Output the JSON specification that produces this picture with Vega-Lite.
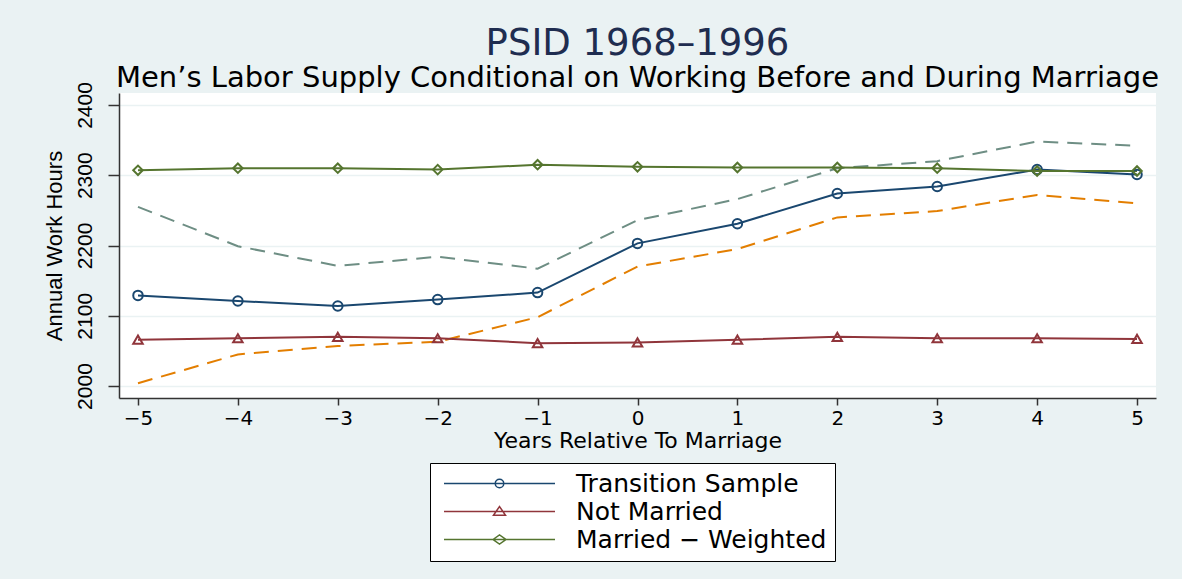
{
  "$schema": "https://vega.github.io/schema/vega-lite/v6.json",
  "autosize": {"type": "none"},
  "width": 1037,
  "height": 305,
  "padding": {"left": 119, "top": 93, "right": 26, "bottom": 181},
  "background": "#eaf2f3",
  "title": {
    "text": "PSID 1968–1996",
    "subtitle": "Men’s Labor Supply Conditional on Working Before and During Marriage",
    "anchor": "middle",
    "font": "DejaVu Sans",
    "fontSize": 37,
    "fontWeight": "normal",
    "color": "#1f2d50",
    "subtitleFont": "DejaVu Sans",
    "subtitleFontSize": 29,
    "subtitleColor": "#000000",
    "subtitlePadding": 1,
    "offset": -12
  },
  "config": {
    "view": {"fill": "#ffffff", "stroke": null},
    "axis": {
      "labelFont": "DejaVu Sans",
      "titleFont": "DejaVu Sans",
      "labelColor": "#000000",
      "titleColor": "#000000",
      "titleFontWeight": "normal",
      "domainColor": "#333333",
      "domainWidth": 1.5,
      "tickColor": "#333333",
      "tickWidth": 1.5,
      "gridColor": "#eaf2f3",
      "gridWidth": 1.5
    }
  },
  "data": {
    "values": [
      {"year": -5, "series": "Transition Sample", "hours": 2129},
      {"year": -4, "series": "Transition Sample", "hours": 2121},
      {"year": -3, "series": "Transition Sample", "hours": 2114},
      {"year": -2, "series": "Transition Sample", "hours": 2123},
      {"year": -1, "series": "Transition Sample", "hours": 2133},
      {"year": 0, "series": "Transition Sample", "hours": 2203},
      {"year": 1, "series": "Transition Sample", "hours": 2231},
      {"year": 2, "series": "Transition Sample", "hours": 2274},
      {"year": 3, "series": "Transition Sample", "hours": 2284},
      {"year": 4, "series": "Transition Sample", "hours": 2308},
      {"year": 5, "series": "Transition Sample", "hours": 2301},
      {"year": -5, "series": "Not Married", "hours": 2066},
      {"year": -4, "series": "Not Married", "hours": 2068},
      {"year": -3, "series": "Not Married", "hours": 2070},
      {"year": -2, "series": "Not Married", "hours": 2068},
      {"year": -1, "series": "Not Married", "hours": 2061},
      {"year": 0, "series": "Not Married", "hours": 2062},
      {"year": 1, "series": "Not Married", "hours": 2066},
      {"year": 2, "series": "Not Married", "hours": 2070},
      {"year": 3, "series": "Not Married", "hours": 2068},
      {"year": 4, "series": "Not Married", "hours": 2068},
      {"year": 5, "series": "Not Married", "hours": 2067},
      {"year": -5, "series": "Married − Weighted", "hours": 2307},
      {"year": -4, "series": "Married − Weighted", "hours": 2310},
      {"year": -3, "series": "Married − Weighted", "hours": 2310},
      {"year": -2, "series": "Married − Weighted", "hours": 2308},
      {"year": -1, "series": "Married − Weighted", "hours": 2315},
      {"year": 0, "series": "Married − Weighted", "hours": 2312},
      {"year": 1, "series": "Married − Weighted", "hours": 2311},
      {"year": 2, "series": "Married − Weighted", "hours": 2311},
      {"year": 3, "series": "Married − Weighted", "hours": 2310},
      {"year": 4, "series": "Married − Weighted", "hours": 2306},
      {"year": 5, "series": "Married − Weighted", "hours": 2306},
      {"year": -5, "series": "Upper", "hours": 2255},
      {"year": -4, "series": "Upper", "hours": 2199},
      {"year": -3, "series": "Upper", "hours": 2171},
      {"year": -2, "series": "Upper", "hours": 2184},
      {"year": -1, "series": "Upper", "hours": 2167},
      {"year": 0, "series": "Upper", "hours": 2236},
      {"year": 1, "series": "Upper", "hours": 2266},
      {"year": 2, "series": "Upper", "hours": 2310},
      {"year": 3, "series": "Upper", "hours": 2320},
      {"year": 4, "series": "Upper", "hours": 2348},
      {"year": 5, "series": "Upper", "hours": 2342},
      {"year": -5, "series": "Lower", "hours": 2004},
      {"year": -4, "series": "Lower", "hours": 2045},
      {"year": -3, "series": "Lower", "hours": 2057},
      {"year": -2, "series": "Lower", "hours": 2063},
      {"year": -1, "series": "Lower", "hours": 2098},
      {"year": 0, "series": "Lower", "hours": 2170},
      {"year": 1, "series": "Lower", "hours": 2195},
      {"year": 2, "series": "Lower", "hours": 2240},
      {"year": 3, "series": "Lower", "hours": 2249},
      {"year": 4, "series": "Lower", "hours": 2272},
      {"year": 5, "series": "Lower", "hours": 2260}
    ]
  },
  "encoding": {
    "x": {
      "field": "year", "type": "quantitative",
      "scale": {"domain": [-5.19, 5.19], "nice": false, "zero": false},
      "axis": {
        "values": [-5, -4, -3, -2, -1, 0, 1, 2, 3, 4, 5],
        "format": "d",
        "grid": false,
        "title": "Years Relative To Marriage",
        "titleFontSize": 22,
        "titlePadding": 2,
        "labelFontSize": 20,
        "labelPadding": 3,
        "tickSize": 7
      }
    },
    "y": {
      "field": "hours", "type": "quantitative",
      "scale": {"domain": [1983, 2417], "nice": false, "zero": false},
      "axis": {
        "values": [2000, 2100, 2200, 2300, 2400],
        "format": "d",
        "grid": true,
        "title": "Annual Work Hours",
        "titleFont": "Liberation Sans",
        "titleFontSize": 22,
        "titlePadding": 8,
        "labelFont": "Liberation Sans",
        "labelFontSize": 21,
        "labelAngle": -90,
        "labelAlign": "center",
        "labelBaseline": "bottom",
        "labelPadding": 13,
        "tickSize": 11
      }
    }
  },
  "layer": [
    {
      "transform": [{"filter": "datum.series == 'Upper' || datum.series == 'Lower'"}],
      "mark": {"type": "line", "strokeWidth": 2, "strokeDash": [15, 9]},
      "encoding": {
        "detail": {"field": "series"},
        "color": {
          "field": "series", "type": "nominal", "legend": null,
          "scale": {
            "domain": ["Transition Sample", "Not Married", "Married − Weighted", "Upper", "Lower"],
            "range": ["#1a476f", "#90353b", "#55752f", "#6e8e84", "#e37e00"]
          }
        }
      }
    },
    {
      "transform": [{"filter": "datum.series != 'Upper' && datum.series != 'Lower'"}],
      "mark": {"type": "line", "strokeWidth": 2},
      "encoding": {
        "detail": {"field": "series"},
        "color": {
          "field": "series", "type": "nominal", "legend": null,
          "scale": {
            "domain": ["Transition Sample", "Not Married", "Married − Weighted", "Upper", "Lower"],
            "range": ["#1a476f", "#90353b", "#55752f", "#6e8e84", "#e37e00"]
          }
        }
      }
    },
    {
      "transform": [{"filter": "datum.series != 'Upper' && datum.series != 'Lower'"}],
      "mark": {"type": "point", "filled": false, "strokeWidth": 2, "size": 90, "opacity": 1},
      "encoding": {
        "color": {
          "field": "series", "type": "nominal", "legend": null,
          "scale": {
            "domain": ["Transition Sample", "Not Married", "Married − Weighted", "Upper", "Lower"],
            "range": ["#1a476f", "#90353b", "#55752f", "#6e8e84", "#e37e00"]
          }
        },
        "shape": {
          "field": "series", "type": "nominal", "legend": null,
          "scale": {
            "domain": ["Transition Sample", "Not Married", "Married − Weighted"],
            "range": ["circle", "triangle-up", "diamond"]
          }
        }
      }
    },
    {
      "transform": [{"filter": "datum.series != 'Upper' && datum.series != 'Lower'"}],
      "mark": {"type": "point", "filled": false, "strokeWidth": 1.5, "opacity": 0},
      "encoding": {
        "color": {
          "field": "series", "type": "nominal",
          "scale": {
            "domain": ["Transition Sample", "Not Married", "Married − Weighted"],
            "range": ["#1a476f", "#90353b", "#55752f"]
          },
          "legend": {
            "title": null,
            "orient": "none",
            "legendX": 311,
            "legendY": 370,
            "symbolOpacity": 1,
            "symbolSize": 100,
            "symbolStrokeWidth": 1.5,
            "symbolOffset": 49,
            "labelFont": "DejaVu Sans",
            "labelFontSize": 25,
            "labelColor": "#000000",
            "labelOffset": 64,
            "labelLimit": 400,
            "strokeColor": "#000000",
            "fillColor": "#ffffff",
            "padding": 8,
            "rowPadding": 2
          }
        },
        "shape": {
          "field": "series", "type": "nominal",
          "scale": {
            "domain": ["Transition Sample", "Not Married", "Married − Weighted"],
            "range": [
              "M-11.1,0L11.1,0M-0.85,0A0.85,0.85 0 1,1 0.85,0A0.85,0.85 0 1,1 -0.85,0",
              "M-11.1,0L11.1,0M-1.2,0.75L0,-1L1.2,0.75Z",
              "M-11.1,0L11.1,0M-1.3,0L0,-0.9L1.3,0L0,0.9Z"
            ]
          },
          "legend": {
            "title": null,
            "orient": "none",
            "legendX": 311,
            "legendY": 370,
            "symbolOpacity": 1,
            "symbolSize": 100,
            "symbolStrokeWidth": 1.5,
            "symbolOffset": 49,
            "labelFont": "DejaVu Sans",
            "labelFontSize": 25,
            "labelColor": "#000000",
            "labelOffset": 64,
            "labelLimit": 400,
            "strokeColor": "#000000",
            "fillColor": "#ffffff",
            "padding": 8,
            "rowPadding": 2
          }
        }
      }
    }
  ],
  "resolve": {"scale": {"color": "independent", "shape": "independent"}}
}
